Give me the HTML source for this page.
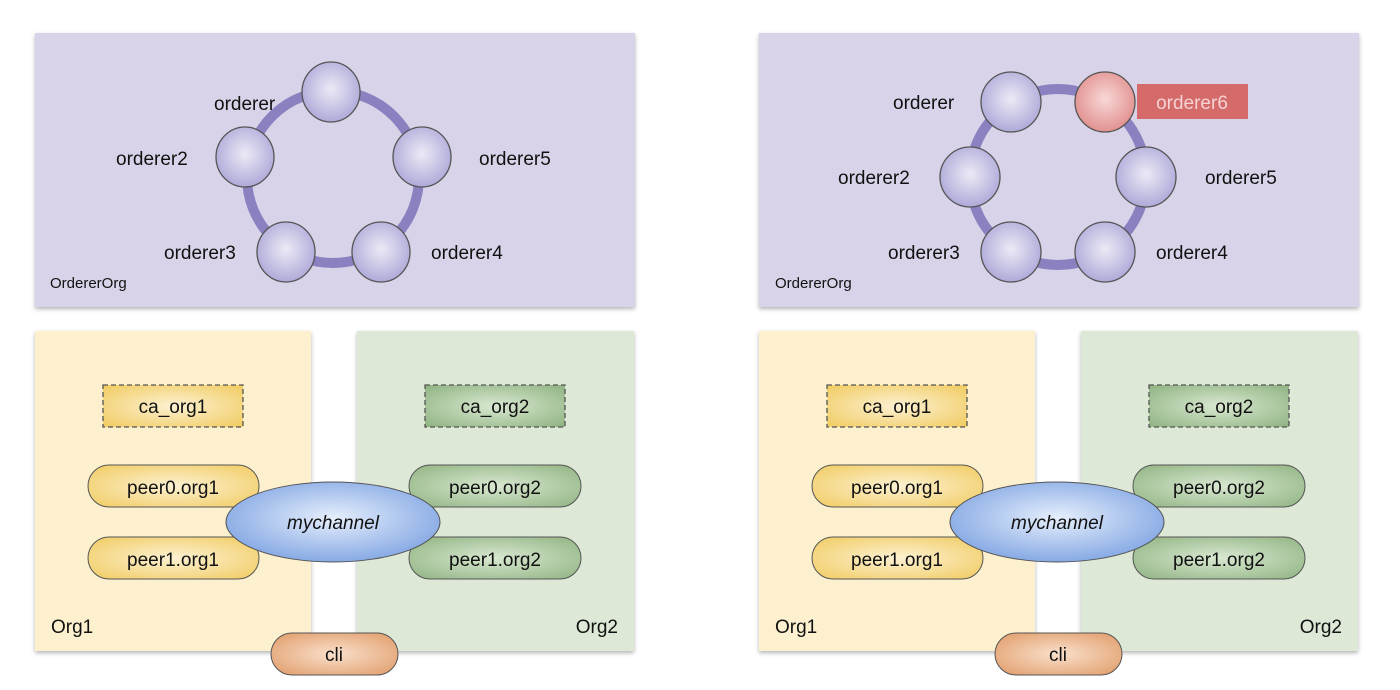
<!DOCTYPE html>
<html><head><meta charset="utf-8"><style>
html,body{margin:0;padding:0;background:#fff;}
svg{display:block;}
text{font-family:"Liberation Sans",sans-serif;}
</style></head><body>
<svg width="1400" height="690" viewBox="0 0 1400 690" xmlns="http://www.w3.org/2000/svg">
<defs>
<filter id="sh" x="-5%" y="-5%" width="110%" height="115%"><feDropShadow dx="0" dy="2" stdDeviation="2" flood-color="#000" flood-opacity="0.3"/></filter>
<radialGradient id="pg" cx="0.5" cy="0.45" r="0.6"><stop offset="0" stop-color="#eceaf6"/><stop offset="1" stop-color="#a9a4d6"/></radialGradient>
<radialGradient id="rg" cx="0.5" cy="0.45" r="0.6"><stop offset="0" stop-color="#f8d8d8"/><stop offset="1" stop-color="#df8a88"/></radialGradient>
<radialGradient id="yg" cx="0.5" cy="0.5" r="0.7"><stop offset="0" stop-color="#fcf1d2"/><stop offset="1" stop-color="#f1cb60"/></radialGradient>
<radialGradient id="gg" cx="0.5" cy="0.5" r="0.7"><stop offset="0" stop-color="#d9e8d1"/><stop offset="1" stop-color="#8fb381"/></radialGradient>
<radialGradient id="bg" cx="0.5" cy="0.45" r="0.6"><stop offset="0" stop-color="#e6effc"/><stop offset="1" stop-color="#7ea3e2"/></radialGradient>
<radialGradient id="og" cx="0.5" cy="0.5" r="0.7"><stop offset="0" stop-color="#f9e0cc"/><stop offset="1" stop-color="#e09a66"/></radialGradient>
</defs>

<!-- LEFT TOP -->
<rect x="35" y="33" width="600" height="274" fill="#d8d3e8" filter="url(#sh)"/>
<ellipse cx="333" cy="177" rx="86" ry="86" fill="none" stroke="#8b80c0" stroke-width="10"/>
<g stroke="#555" stroke-width="1.3" fill="url(#pg)">
<ellipse cx="331" cy="92" rx="29" ry="30"/>
<ellipse cx="245" cy="157" rx="29" ry="30"/>
<ellipse cx="422" cy="157" rx="29" ry="30"/>
<ellipse cx="286" cy="252" rx="29" ry="30"/>
<ellipse cx="381" cy="252" rx="29" ry="30"/>
</g>
<g font-size="19" fill="#111">
<text x="214" y="110">orderer</text>
<text x="116" y="165">orderer2</text>
<text x="479" y="165">orderer5</text>
<text x="164" y="259">orderer3</text>
<text x="431" y="259">orderer4</text>
<text x="50" y="288" font-size="15">OrdererOrg</text>
</g>

<!-- RIGHT TOP -->
<rect x="759" y="33" width="600" height="274" fill="#d8d3e8" filter="url(#sh)"/>
<circle cx="1058" cy="177" r="88" fill="none" stroke="#8b80c0" stroke-width="10"/>
<g stroke="#555" stroke-width="1.3" fill="url(#pg)">
<circle cx="1011" cy="102" r="30"/>
<circle cx="970" cy="177" r="30"/>
<circle cx="1146" cy="177" r="30"/>
<circle cx="1011" cy="252" r="30"/>
<circle cx="1105" cy="252" r="30"/>
</g>
<circle cx="1105" cy="102" r="30" stroke="#555" stroke-width="1.3" fill="url(#rg)"/>
<rect x="1137" y="84" width="111" height="35" fill="#d46a6a"/>
<g font-size="19" fill="#111">
<text x="1192" y="109" text-anchor="middle" fill="#f6d2d2">orderer6</text>
<text x="893" y="109">orderer</text>
<text x="838" y="184">orderer2</text>
<text x="1205" y="184">orderer5</text>
<text x="888" y="259">orderer3</text>
<text x="1156" y="259">orderer4</text>
<text x="775" y="288" font-size="15">OrdererOrg</text>
</g>

<!-- LEFT BOTTOM -->
<rect x="35" y="331" width="276" height="320" fill="#fcf0ce" filter="url(#sh)"/>
<rect x="357" y="331" width="277" height="320" fill="#dde8d6" filter="url(#sh)"/>
<rect x="103" y="385" width="140" height="42" fill="url(#yg)" stroke="#555" stroke-width="1.3" stroke-dasharray="5,3"/>
<rect x="425" y="385" width="140" height="42" fill="url(#gg)" stroke="#555" stroke-width="1.3" stroke-dasharray="5,3"/>
<rect x="88" y="465" width="171" height="42" rx="21" fill="url(#yg)" stroke="#555"/>
<rect x="88" y="537" width="171" height="42" rx="21" fill="url(#yg)" stroke="#555"/>
<rect x="409" y="465" width="172" height="42" rx="21" fill="url(#gg)" stroke="#555"/>
<rect x="409" y="537" width="172" height="42" rx="21" fill="url(#gg)" stroke="#555"/>
<ellipse cx="333" cy="522" rx="107" ry="40" fill="url(#bg)" stroke="#555"/>
<rect x="271" y="633" width="127" height="42" rx="21" fill="url(#og)" stroke="#555"/>
<g font-size="19" fill="#111" text-anchor="middle">
<text x="173" y="413">ca_org1</text>
<text x="495" y="413">ca_org2</text>
<text x="173" y="494">peer0.org1</text>
<text x="173" y="566">peer1.org1</text>
<text x="495" y="494">peer0.org2</text>
<text x="495" y="566">peer1.org2</text>
<text x="333" y="529" font-style="italic">mychannel</text>
<text x="334" y="661">cli</text>
<text x="51" y="633" text-anchor="start">Org1</text>
<text x="618" y="633" text-anchor="end">Org2</text>
</g>

<!-- RIGHT BOTTOM -->
<g transform="translate(724,0)">
<rect x="35" y="331" width="276" height="320" fill="#fcf0ce" filter="url(#sh)"/>
<rect x="357" y="331" width="277" height="320" fill="#dde8d6" filter="url(#sh)"/>
<rect x="103" y="385" width="140" height="42" fill="url(#yg)" stroke="#555" stroke-width="1.3" stroke-dasharray="5,3"/>
<rect x="425" y="385" width="140" height="42" fill="url(#gg)" stroke="#555" stroke-width="1.3" stroke-dasharray="5,3"/>
<rect x="88" y="465" width="171" height="42" rx="21" fill="url(#yg)" stroke="#555"/>
<rect x="88" y="537" width="171" height="42" rx="21" fill="url(#yg)" stroke="#555"/>
<rect x="409" y="465" width="172" height="42" rx="21" fill="url(#gg)" stroke="#555"/>
<rect x="409" y="537" width="172" height="42" rx="21" fill="url(#gg)" stroke="#555"/>
<ellipse cx="333" cy="522" rx="107" ry="40" fill="url(#bg)" stroke="#555"/>
<rect x="271" y="633" width="127" height="42" rx="21" fill="url(#og)" stroke="#555"/>
<g font-size="19" fill="#111" text-anchor="middle">
<text x="173" y="413">ca_org1</text>
<text x="495" y="413">ca_org2</text>
<text x="173" y="494">peer0.org1</text>
<text x="173" y="566">peer1.org1</text>
<text x="495" y="494">peer0.org2</text>
<text x="495" y="566">peer1.org2</text>
<text x="333" y="529" font-style="italic">mychannel</text>
<text x="334" y="661">cli</text>
<text x="51" y="633" text-anchor="start">Org1</text>
<text x="618" y="633" text-anchor="end">Org2</text>
</g>
</g>
</svg>
</body></html>
